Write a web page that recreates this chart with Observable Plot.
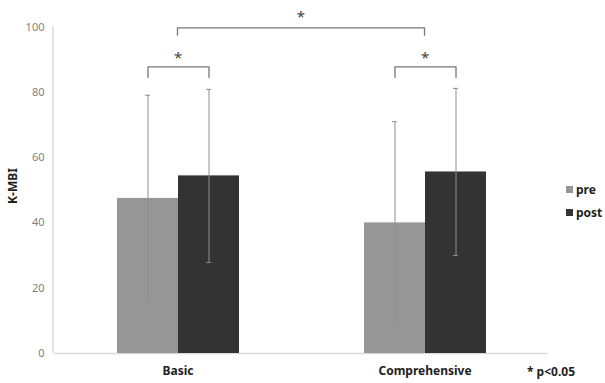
<!DOCTYPE html>
<html><head><meta charset="utf-8">
<script src="https://cdn.jsdelivr.net/npm/d3@7"></script>
<script src="https://cdn.jsdelivr.net/npm/@observablehq/plot@0.6"></script>
<style>
body{margin:0;background:#fff;font-family:"Noto Sans","Open Sans",sans-serif}
#c{position:relative;width:605px;height:383px;overflow:hidden}
.lab{position:absolute;font-weight:bold;font-size:12px;color:#222;white-space:nowrap;line-height:1}
.sw{display:inline-block;width:7px;height:7px;margin-right:3px;vertical-align:1px}
</style>
</head><body><div id="c"></div>
<script>
const categories = ["Basic", "Comprehensive"];
const series = ["pre", "post"];
const preMean = [47.5, 40.0];
const postMean = [54.4, 55.6];
const preSD = [31.6, 31.0];
const postSD = [26.5, 25.6];
const yTicks = [0, 20, 40, 60, 80, 100];
const colors = ["#969696", "#333333"];
const withinSig = ["Basic", "Comprehensive"];   // pre vs post significant
const betweenSig = ["Basic", "Comprehensive"];  // group comparison

const rows = categories.flatMap((c, i) => [
  {cat: c, s: "pre", m: preMean[i], sd: preSD[i]},
  {cat: c, s: "post", m: postMean[i], sd: postSD[i]}
]);

const bLow = 84.5, bHigh = 87.8;
const bracketRows = withinSig.flatMap(c => [
  {cat: c, s: "pre", y: bLow}, {cat: c, s: "pre", y: bHigh},
  {cat: c, s: "post", y: bHigh}, {cat: c, s: "post", y: bLow}
]);

const font = '"Noto Sans","Open Sans",sans-serif';

const plot = Plot.plot({
  width: 605, height: 383,
  marginLeft: 53, marginRight: 57, marginTop: 26.5, marginBottom: 30,
  style: {fontFamily: font, overflow: "visible", background: "#fff"},
  fx: {domain: categories, padding: 0, label: null},
  x: {domain: series, paddingInner: 0, paddingOuter: 1, axis: null},
  y: {domain: [0, 100], axis: null},
  color: {domain: series, range: colors},
  marks: [
    Plot.ruleY([0], {stroke: "#d9d9d9", strokeWidth: 1.5}),
    Plot.barY(rows, {fx: "cat", x: "s", y: "m", fill: "s", inset: 0}),
    Plot.ruleX(rows, {fx: "cat", x: "s", y1: d => d.m - d.sd, y2: d => d.m + d.sd, stroke: "#8f8f8f", strokeWidth: 1}),
    Plot.tickY(rows, {fx: "cat", x: "s", y: d => d.m + d.sd, stroke: "#8f8f8f", insetLeft: 28, insetRight: 28}),
    Plot.tickY(rows, {fx: "cat", x: "s", y: d => d.m - d.sd, stroke: "#8f8f8f", insetLeft: 28, insetRight: 28}),
    Plot.line(bracketRows, {fx: "cat", x: "s", y: "y", z: "cat", stroke: "#777", strokeWidth: 1.3}),
    Plot.text(withinSig, {fx: d => d, y: 90.6, text: () => "*", fontSize: 15, fill: "#444"}),
    Plot.axisY({ticks: yTicks, tickSize: 0, tickPadding: 10, fontSize: 11, fill: "#7f7f7f", label: null}),
    Plot.axisFx({anchor: "bottom", tickSize: 0, tickPadding: 13, fontSize: 12, fontWeight: "bold", fill: "#222", label: null})
  ]
});

// left axis line and between-group bracket, placed through Plot's scales
const svg = d3.select(plot.tagName === "svg" ? plot : plot.querySelector("svg"));
const fx = plot.scale("fx"), y = plot.scale("y");
const cx = c => fx.apply(c) + fx.bandwidth / 2;
svg.append("line")
  .attr("x1", 53).attr("x2", 53)
  .attr("y1", y.apply(100)).attr("y2", y.apply(0))
  .attr("stroke", "#d9d9d9").attr("stroke-width", 1.5);
const gLow = 97.2, gHigh = 99.6;
const xa = cx(betweenSig[0]), xb = cx(betweenSig[1]);
svg.append("path")
  .attr("d", `M${xa},${y.apply(gLow)}V${y.apply(gHigh)}H${xb}V${y.apply(gLow)}`)
  .attr("fill", "none").attr("stroke", "#777").attr("stroke-width", 1.3);
svg.append("text")
  .attr("x", (xa + xb) / 2).attr("y", y.apply(103)).attr("dy", "0.35em")
  .attr("text-anchor", "middle").attr("font-size", 15).attr("fill", "#444")
  .attr("font-family", font).text("*");
svg.append("text")
  .attr("transform", `translate(13,${186}) rotate(-90)`)
  .attr("text-anchor", "middle").attr("dy", "0.35em")
  .attr("font-size", 12).attr("font-weight", "bold").attr("fill", "#222")
  .attr("font-family", font).text("K-MBI");

const c = document.getElementById("c");
c.appendChild(plot);

const leg = [["pre", 184], ["post", 207]];
leg.forEach(([s, top], i) => {
  const d = document.createElement("div");
  d.className = "lab";
  d.style.left = "566px"; d.style.top = top + "px";
  d.innerHTML = `<span class="sw" style="background:${colors[i]}"></span>${s}`;
  c.appendChild(d);
});
const note = document.createElement("div");
note.className = "lab";
note.style.left = "527px"; note.style.top = "366px";
note.textContent = "* p<0.05";
c.appendChild(note);
</script>
</body></html>
